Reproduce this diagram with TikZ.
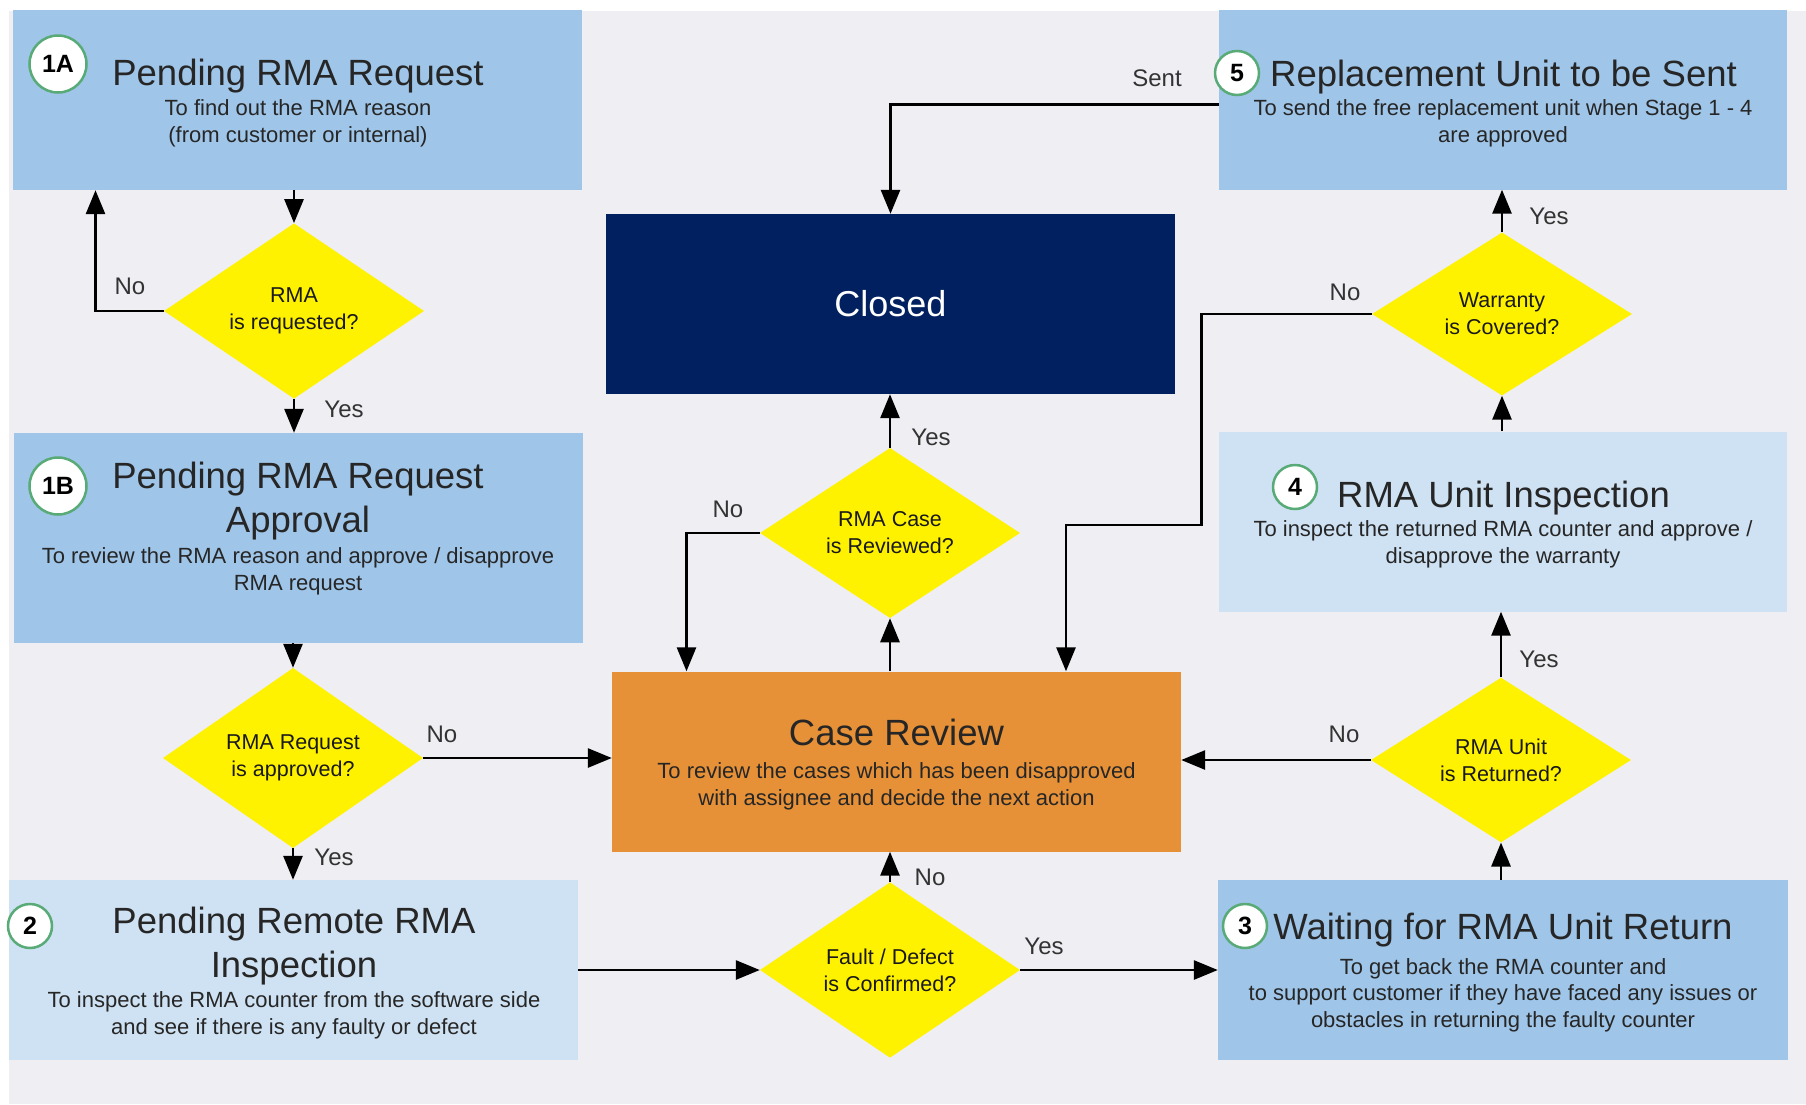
\documentclass[tikz,border=0pt]{standalone}
\usepackage{fontspec}
\setmainfont{Liberation Sans}
\usepackage{xcolor}
\usetikzlibrary{arrows.meta,calc,shapes.geometric}

\definecolor{bgrey}{RGB}{238,238,243}
\definecolor{midblue}{RGB}{159,197,232}
\definecolor{paleblue}{RGB}{207,226,243}
\definecolor{rmanavy}{RGB}{1,32,96}
\definecolor{caseorange}{RGB}{230,145,56}
\definecolor{badgegreen}{RGB}{88,170,118}

\begin{document}
\begin{tikzpicture}[x=1pt,y=-1pt,
	box/.style={rectangle,inner sep=0pt,minimum width=569pt,minimum height=180pt},
	dec/.style={diamond,fill=yellow,inner sep=0pt,minimum width=260pt,minimum height=163pt,align=center,text=black!90,font=\fontsize{21.5}{27}\selectfont},
	badge/.style={circle,draw=badgegreen,line width=2.5pt,fill=white,inner sep=0pt,minimum size=44pt,font=\fontsize{25}{25}\selectfont\bfseries},
	ttl/.style={anchor=base,align=center,inner sep=0pt,text=black!85,font=\fontsize{36.5}{44}\selectfont},
	sub/.style={anchor=base,align=center,inner sep=0pt,text=black!85,font=\fontsize{22}{26.5}\selectfont},
	lbl/.style={inner sep=0pt,text=black!80,font=\fontsize{24}{24}\selectfont},
	flow/.style={-{Triangle[length=24pt,width=19pt]},line width=2.8pt}]
	\useasboundingbox (0,0) rectangle (1806,1104);
	\fill[bgrey] (9,11) rectangle (1806,1104);

	% stages (text nodes sit on the baseline of their last line)
	\node[box,fill=midblue] (reqA) at (297.5,100) {};
	\node[box,fill=midblue,minimum height=210pt] (reqB) at (298,538) {};
	\node[box,fill=paleblue] (remote) at (293.5,970) {};
	\node[box,fill=rmanavy,text=white,font=\fontsize{36}{44}\selectfont] (closed) at (890.5,304) {Closed};
	\node[box,fill=caseorange] (review) at (896.5,761.5) {};
	\node[box,fill=midblue,minimum width=568pt] (send) at (1503,99.5) {};
	\node[box,fill=paleblue,minimum width=568pt] (inspect) at (1503,521.5) {};
	\node[box,fill=midblue,minimum width=570pt] (waitret) at (1503,970) {};

	\node[badge,minimum size=57pt] (nA) at (58,64) {1A};
	\node[badge,minimum size=57pt] (nB) at (58,486) {1B};
	\node[badge] (n2) at (30,926) {2};
	\node[badge] (n3) at (1245,926) {3};
	\node[badge] (n4) at (1295,487) {4};
	\node[badge] (n5) at (1237,73) {5};

	\node[ttl] (tA) at (298,85) {Pending RMA Request};
	\node[sub] (sA) at (298,142) {To find out the RMA reason\\(from customer or internal)};
	\node[ttl] (tB) at (298,532) {Pending RMA Request\\Approval};
	\node[sub] (sB) at (298,590) {To review the RMA reason and approve / disapprove\\RMA request};
	\node[ttl] (t2) at (294,977) {Pending Remote RMA\\Inspection};
	\node[sub] (s2) at (294,1034) {To inspect the RMA counter from the software side\\and see if there is any faulty or defect};
	\node[ttl] (tR) at (896.5,745) {Case Review};
	\node[sub] (sR) at (896.5,805) {To review the cases which has been disapproved\\with assignee and decide the next action};
	\node[ttl] (t5) at (1503.5,86) {Replacement Unit to be Sent};
	\node[sub] (s5) at (1503,142) {To send the free replacement unit when Stage 1 - 4\\are approved};
	\node[ttl] (t4) at (1503.5,507) {RMA Unit Inspection};
	\node[sub] (s4) at (1503,563) {To inspect the returned RMA counter and approve /\\disapprove the warranty};
	\node[ttl] (t3) at (1503,939) {Waiting for RMA Unit Return};
	\node[sub] (s3) at (1503,1027) {To get back the RMA counter and\\to support customer if they have faced any issues or\\obstacles in returning the faulty counter};

	% decisions
	\node[dec] (qReq) at (294,311) {RMA\\is requested?};
	\node[dec] (qApp) at (293,758) {RMA Request\\is approved?};
	\node[dec] (qFault) at (890,970) {Fault / Defect\\is Confirmed?};
	\node[dec] (qCase) at (890,533) {RMA Case\\is Reviewed?};
	\node[dec] (qWar) at (1502,314) {Warranty\\is Covered?};
	\node[dec] (qRet) at (1501,760) {RMA Unit\\is Returned?};

	\draw[flow] (reqA.south -| qReq.north) -- (qReq.north);
	\draw[flow] (qReq.west) -| ([xshift=-202pt]reqA.south);
	\draw[flow] (qReq.south) -- (qReq.south |- reqB.north);
	\draw[flow] (reqB.south -| qApp.north) -- (qApp.north);
	\draw[flow] (qApp.east) -- (qApp.east -| review.west);
	\draw[flow] (qApp.south) -- (qApp.south |- remote.north);
	\draw[flow] (remote.east) -- (qFault.west);
	\draw[flow] (qFault.north) -- (qFault.north |- review.south);
	\draw[flow] (qFault.east) -- (waitret.west);
	\draw[flow] (waitret.north -| qRet.south) -- (qRet.south);
	\draw[flow] (qRet.west) -- (qRet.west -| review.east);
	\draw[flow] (qRet.north) -- (qRet.north |- inspect.south);
	\draw[flow] (inspect.north -| qWar.south) -- (qWar.south);
	\draw[flow] (qWar.north) -- (qWar.north |- send.south);
	\draw[flow] (qWar.west) -| ++(-170,211) -| ([xshift=169.5pt]review.north);
	\draw[flow] (review.north -| qCase.south) -- (qCase.south);
	\draw[flow] (qCase.west) -| ([xshift=-210pt]review.north);
	\draw[flow] (qCase.north) -- (qCase.north |- closed.south);
	\draw[flow] ([yshift=-5pt]send.west) -| (closed.north);

	\node[lbl] (lNoReq) at (130,286) {No};
	\node[lbl] (lYesReq) at (344,409) {Yes};
	\node[lbl] (lNoApp) at (442,734) {No};
	\node[lbl] (lYesApp) at (334,857) {Yes};
	\node[lbl] (lNoFault) at (930,877) {No};
	\node[lbl] (lYesFault) at (1044,946) {Yes};
	\node[lbl] (lNoRet) at (1344,734) {No};
	\node[lbl] (lYesRet) at (1539,659) {Yes};
	\node[lbl] (lYesWar) at (1549,216) {Yes};
	\node[lbl] (lNoWar) at (1345,292) {No};
	\node[lbl] (lNoCase) at (728,509) {No};
	\node[lbl] (lYesCase) at (931,437) {Yes};
	\node[lbl] (lSent) at (1157,78) {Sent};
\end{tikzpicture}
\end{document}
